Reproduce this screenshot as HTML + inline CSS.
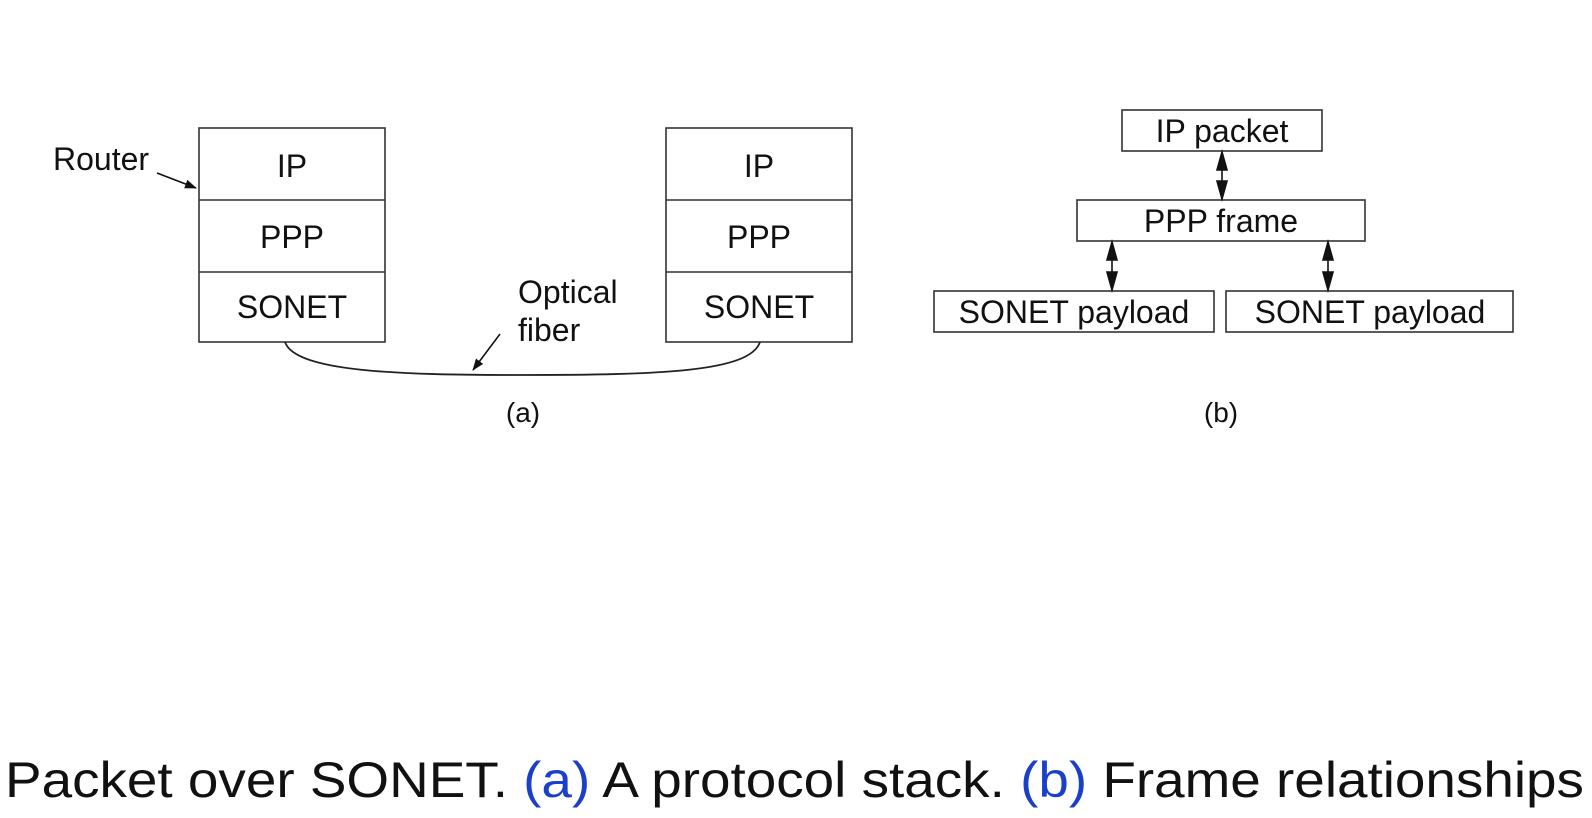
<!DOCTYPE html>
<html><head><meta charset="utf-8"><style>
html,body{margin:0;padding:0;background:#fff;}
svg{display:block;}
text{font-family:"Liberation Sans",Arial,sans-serif;fill:#111;}
</style></head><body>
<svg width="1592" height="818" viewBox="0 0 1592 818" xmlns="http://www.w3.org/2000/svg">
<defs>
<marker id="ah" markerWidth="12" markerHeight="9" refX="11" refY="4.5" orient="auto" markerUnits="userSpaceOnUse">
<path d="M0,0 L12,4.5 L0,9 z" fill="#111"/></marker>
</defs>
<g fill="none" stroke="#333" stroke-width="1.6">
<rect x="199" y="128" width="186" height="214"/>
<line x1="199" y1="200" x2="385" y2="200"/>
<line x1="199" y1="272" x2="385" y2="272"/>
<rect x="666" y="128" width="186" height="214"/>
<line x1="666" y1="200" x2="852" y2="200"/>
<line x1="666" y1="272" x2="852" y2="272"/>
<path d="M285,342 C295,372 400,375 520,375 C660,375 750,372 760,342" stroke="#222" stroke-width="1.8"/>
<rect x="1122" y="110" width="200" height="41"/>
<rect x="1077" y="200" width="288" height="41"/>
<rect x="934" y="291" width="280" height="41"/>
<rect x="1226" y="291" width="287" height="41"/>
</g>
<g stroke="#111" stroke-width="1.6">
<line x1="157" y1="173" x2="196" y2="188" marker-end="url(#ah)"/>
<line x1="500" y1="334" x2="473" y2="370" marker-end="url(#ah)"/>
</g>
<g fill="#111" stroke="#111" stroke-width="1.6">
<line x1="1222" y1="155" x2="1222" y2="196"/>
<path d="M1217,170 L1227,170 L1222,152 z"/><path d="M1217,181 L1227,181 L1222,199 z"/>
<line x1="1112" y1="245" x2="1112" y2="287"/>
<path d="M1107,260 L1117,260 L1112,242 z"/><path d="M1107,272 L1117,272 L1112,290 z"/>
<line x1="1328" y1="245" x2="1328" y2="287"/>
<path d="M1323,260 L1333,260 L1328,242 z"/><path d="M1323,272 L1333,272 L1328,290 z"/>
</g>
<g font-size="32" text-anchor="middle">
<text x="292" y="177">IP</text>
<text x="292" y="248">PPP</text>
<text x="292" y="318">SONET</text>
<text x="759" y="177">IP</text>
<text x="759" y="248">PPP</text>
<text x="759" y="318">SONET</text>
<text x="1222" y="142">IP packet</text>
<text x="1221" y="232">PPP frame</text>
<text x="1074" y="323">SONET payload</text>
<text x="1370" y="323">SONET payload</text>
</g>
<text x="53" y="170" font-size="32">Router</text>
<text x="518" y="303" font-size="32">Optical</text>
<text x="518" y="341" font-size="32">fiber</text>
<text x="523" y="422" font-size="28" text-anchor="middle">(a)</text>
<text x="1221" y="422" font-size="28" text-anchor="middle">(b)</text>
<text x="5" y="797" font-size="50" textLength="1579" lengthAdjust="spacingAndGlyphs">Packet over SONET. <tspan fill="#1a3fc8">(a)</tspan> A protocol stack. <tspan fill="#1a3fc8">(b)</tspan> Frame relationships</text>
</svg>
</body></html>
